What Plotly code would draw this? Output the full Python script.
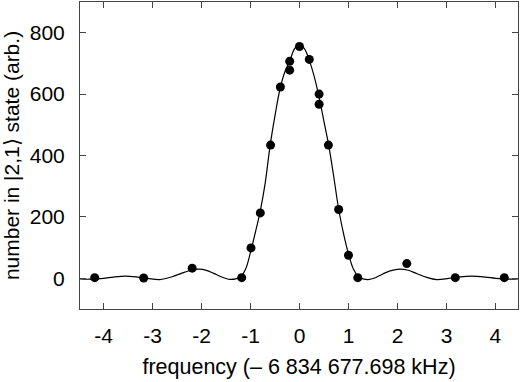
import plotly.graph_objects as go

# measured points (frequency offset in kHz, atom number)
freq_pts = [-4.18, -3.18, -2.19, -1.18, -0.99, -0.80, -0.59, -0.39, -0.20, -0.20,
            0.00, 0.20, 0.40, 0.40, 0.59, 0.80, 1.00, 1.19, 2.19, 3.18, 4.18]
count_pts = [2, 1, 33, 2, 99, 213, 434, 623, 678, 707,
             755, 713, 600, 567, 434, 224, 75, 2, 48, 2, 2]

# fit curve
freq_fit = [-4.48, -4.3, -4.0, -3.8, -3.55, -3.3, -3.1, -2.85, -2.6, -2.4, -2.2,
            -2.05, -1.9, -1.75, -1.6, -1.45, -1.3, -1.2, -1.1, -1.0, -0.9, -0.8,
            -0.7, -0.6, -0.5, -0.4, -0.3, -0.2, -0.1, 0.0, 0.1, 0.2, 0.3, 0.4,
            0.5, 0.6, 0.7, 0.8, 0.9, 1.0, 1.1, 1.2, 1.3, 1.4, 1.55, 1.7, 1.85,
            2.05, 2.2, 2.4, 2.6, 2.8, 3.05, 3.25, 3.5, 3.8, 4.0, 4.3, 4.46]
count_fit = [-2, -3, 0, 4, 7, 4, 0, -4, 5, 17, 27,
             30, 26, 16, 5, -3, -2, 5, 30, 85, 150, 220,
             310, 432, 530, 615, 672, 708, 748, 762, 748, 710, 658, 590,
             510, 430, 330, 225, 145, 80, 30, 6, -2, -4, 2, 14, 24,
             30, 27, 15, 3, -4, 0, 4, 7, 4, 0, -3, -2]

x_ticks = [-4, -3, -2, -1, 0, 1, 2, 3, 4]
x_labels = ["-4", "-3", "-2", "-1", "0", "1", "2", "3", "4"]
y_ticks = [0, 200, 400, 600, 800]

fig = go.Figure()
fig.add_trace(go.Scatter(x=freq_fit, y=count_fit, mode="lines",
                         line=dict(color="black", width=1.2, shape="spline"),
                         hoverinfo="skip"))
fig.add_trace(go.Scatter(x=freq_pts, y=count_pts, mode="markers",
                         marker=dict(color="black", size=9)))

axis_style = dict(showline=True, linecolor="#444", linewidth=1, mirror="ticks",
                  ticks="inside", ticklen=6, tickcolor="#444", showgrid=False,
                  zeroline=False, automargin=False,
                  tickfont=dict(size=21, color="black"))

fig.update_xaxes(range=[-4.48, 4.46], tickvals=x_ticks, ticktext=x_labels,
                 ticklabelstandoff=8,
                 title=dict(text="frequency (\u2013 6 834 677.698 kHz)",
                            font=dict(size=21.5, color="black"), standoff=12),
                 **axis_style)
fig.update_yaxes(range=[-100, 900], tickvals=y_ticks,
                 ticklabelstandoff=10,
                 title=dict(text="number in |2,1\u27e9 state (arb.)",
                            font=dict(size=21, color="black"), standoff=11),
                 **axis_style)

fig.update_layout(width=520, height=382, showlegend=False,
                  margin=dict(l=80, r=2, t=2, b=73),
                  paper_bgcolor="white", plot_bgcolor="white",
                  font=dict(family="Liberation Sans, Arial, sans-serif", color="black"))

# the page body has a default margin; drop it so the figure sits at 0,0
fig.write_html("out.html", config={"displayModeBar": False},
               post_script="document.body.style.margin='0';")
